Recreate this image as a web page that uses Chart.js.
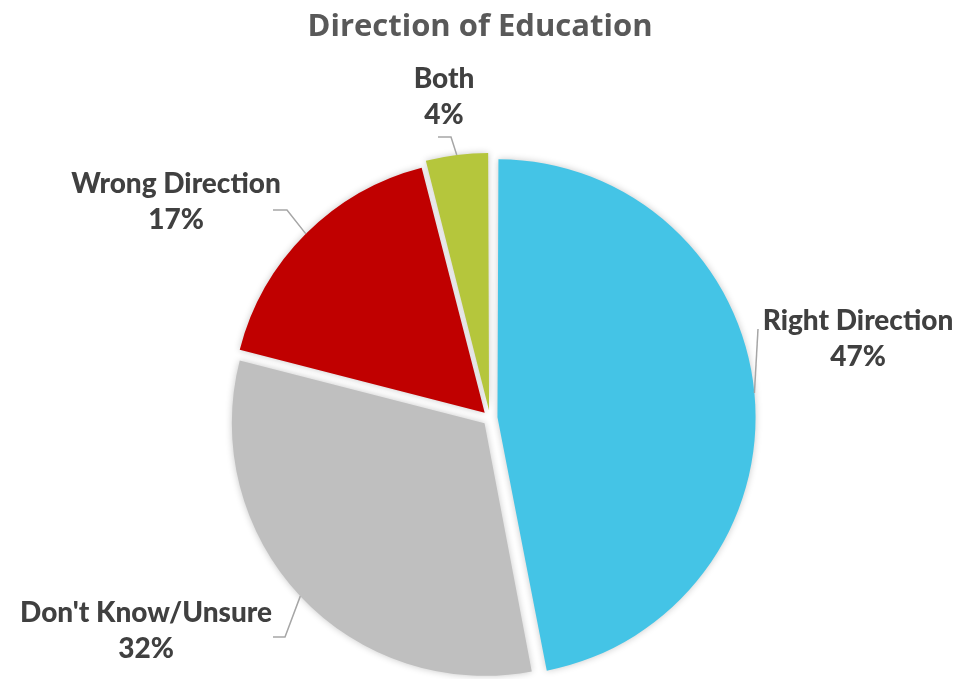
<!DOCTYPE html>
<html lang="en">
<head>
    <meta charset="UTF-8">
    <title>Direction of Education</title>
    <script src="https://cdn.jsdelivr.net/npm/chart.js"></script>
    <style>
        html, body {
            margin: 0;
            padding: 0;
            background: #ffffff;
            overflow: hidden;
        }
        .chart-box {
            position: relative;
            width: 961px;
            height: 679px;
        }
    </style>
</head>
<body>
    <div class="chart-box">
        <canvas id="pie"></canvas>
    </div>

    <script>
        // data
        const categories = ['Right Direction', "Don't Know/Unsure", 'Wrong Direction', 'Both'];
        const shares = [47, 32, 17, 4];
        const sliceColors = ['#44C4E6', '#BFBFBF', '#C00000', '#B5C63C'];
        const chartTitle = 'Direction of Education';

        // where each label sits and how its leader bends (x, first baseline, leader points)
        const labelLayout = [
            { x: 858, y: 330, leader: [[758, 329]] },
            { x: 146, y: 622, leader: [[273, 637], [285, 637]] },
            { x: 176, y: 193, leader: [[273, 210], [287, 210]] },
            { x: 444, y: 88,  leader: [[438, 137], [451, 137]] }
        ];

        const labelFont = '900 28px Lato, "DejaVu Sans", sans-serif';
        const textColor = '#404040';
        const leaderColor = '#A6A6A6';

        const shadowPlugin = {
            id: 'sliceShadow',
            beforeDatasetsDraw(chart) {
                const ctx = chart.ctx;
                ctx.save();
                ctx.shadowColor = 'rgba(0,0,0,0.22)';
                ctx.shadowBlur = 7;
            },
            afterDatasetsDraw(chart) {
                chart.ctx.restore();
            }
        };

        const labelPlugin = {
            id: 'pieLabels',
            afterDraw(chart) {
                const ctx = chart.ctx;
                const arcs = chart.getDatasetMeta(0).data;
                ctx.save();

                // title
                ctx.fillStyle = '#595959';
                ctx.font = 'bold 31px "Open Sans", sans-serif';
                ctx.textAlign = 'center';
                ctx.textBaseline = 'alphabetic';
                ctx.fillText(chartTitle, 480, 36);

                arcs.forEach((arc, i) => {
                    const p = arc.getProps(['x', 'y', 'startAngle', 'endAngle', 'outerRadius', 'circumference'], true);
                    const half = (p.startAngle + p.endAngle) / 2;
                    const shift = (arc.options.offset || 0) / 4;
                    const fix = 1 - Math.sin(Math.min(Math.PI, p.circumference));
                    const r = p.outerRadius + shift * fix + shift;
                    const ex = p.x + Math.cos(half) * r;
                    const ey = p.y + Math.sin(half) * r;

                    const lay = labelLayout[i];
                    ctx.strokeStyle = leaderColor;
                    ctx.lineWidth = 1.5;
                    ctx.beginPath();
                    ctx.moveTo(lay.leader[0][0], lay.leader[0][1]);
                    for (let k = 1; k < lay.leader.length; k++) {
                        ctx.lineTo(lay.leader[k][0], lay.leader[k][1]);
                    }
                    ctx.lineTo(ex, ey);
                    ctx.stroke();

                    ctx.fillStyle = textColor;
                    ctx.font = labelFont;
                    ctx.textAlign = 'center';
                    ctx.fillText(categories[i], lay.x, lay.y);
                    ctx.fillText(shares[i] + '%', lay.x, lay.y + 36);
                });
                ctx.restore();
            }
        };

        new Chart(document.getElementById('pie'), {
            type: 'pie',
            data: {
                labels: categories,
                datasets: [{
                    data: shares,
                    backgroundColor: sliceColors,
                    borderWidth: 0,
                    offset: 30,
                    clip: false
                }]
            },
            options: {
                responsive: true,
                maintainAspectRatio: false,
                animation: false,
                radius: 252,
                layout: { padding: { top: 160, bottom: 3, left: 120, right: 101 } },
                plugins: {
                    legend: { display: false },
                    tooltip: { enabled: false }
                }
            },
            plugins: [shadowPlugin, labelPlugin]
        });
    </script>
</body>
</html>
